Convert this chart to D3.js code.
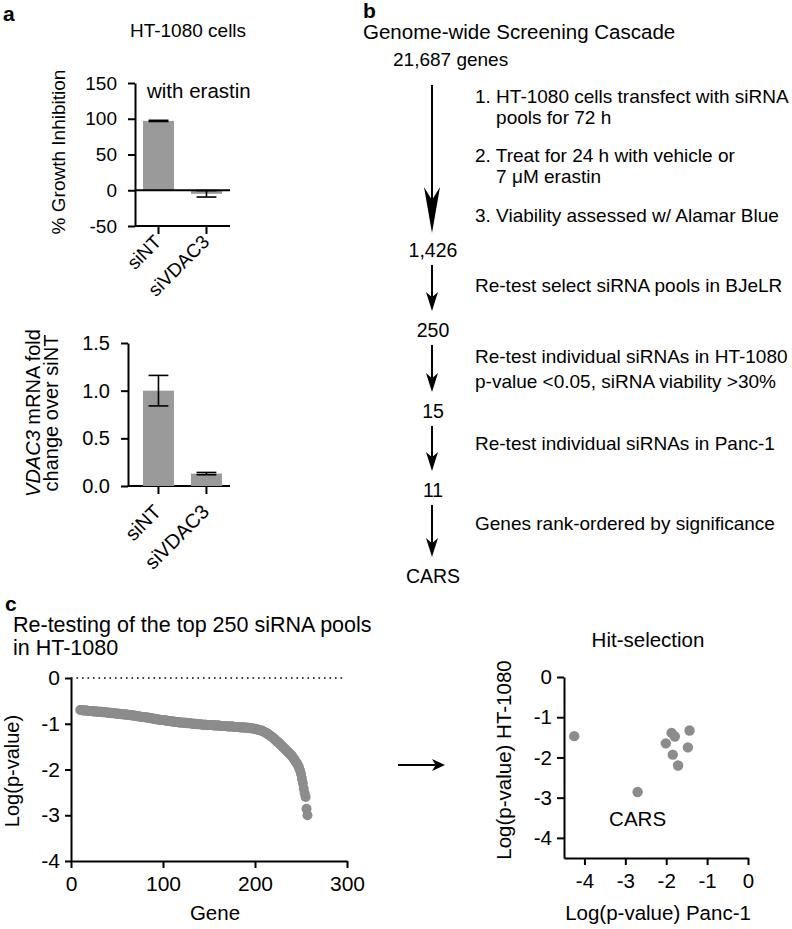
<!DOCTYPE html>
<html>
<head>
<meta charset="utf-8">
<script src="https://cdn.jsdelivr.net/npm/d3@7"></script>
<style>
  body { margin: 0; background: #fff; }
  svg { display: block; }
</style>
</head>
<body>
<div id="chart"></div>
<script>
const FONT = "'Liberation Sans', Arial, Helvetica, sans-serif"
const BAR = '#9a9a9a'
const DOT = '#8c8c8c'

// panel a
const groups = ['siNT', 'siVDAC3']
const growthInhibition = [97, -5]
const growthInhibitionErr = [0.8, 4.5]
const growthTicks = [-50, 0, 50, 100, 150]
const mrnaFold = [1.0, 0.13]
const mrnaFoldErr = [0.16, 0.012]
const foldTicks = [0, 0.5, 1.0, 1.5]

// panel b
const cascadeStart = '21,687 genes'
const cascadeCounts = ['1,426', '250', '15', '11', 'CARS']
const firstSteps = [
  ['1. HT-1080 cells transfect with siRNA', '    pools for 72 h'],
  ['2. Treat for 24 h with vehicle or', '    7 \u03bcM erastin'],
  ['3. Viability assessed w/ Alamar Blue']
]
const laterSteps = [
  ['Re-test select siRNA pools in BJeLR'],
  ['Re-test individual siRNAs in HT-1080', 'p-value <0.05, siRNA viability >30%'],
  ['Re-test individual siRNAs in Panc-1'],
  ['Genes rank-ordered by significance']
]

// panel c, left: ranked log(p) of re-tested pools, first rank shown is 10
const firstRank = 10
const retestLogP = [
  -0.70, -0.70, -0.70, -0.71, -0.71, -0.71, -0.71, -0.71, -0.72, -0.72,
  -0.72, -0.72, -0.72, -0.72, -0.73, -0.73, -0.73, -0.73, -0.73, -0.74,
  -0.74, -0.74, -0.74, -0.74, -0.75, -0.75, -0.75, -0.75, -0.75, -0.76,
  -0.76, -0.76, -0.76, -0.76, -0.77, -0.77, -0.77, -0.77, -0.77, -0.78,
  -0.78, -0.78, -0.78, -0.78, -0.79, -0.79, -0.79, -0.79, -0.80, -0.80,
  -0.80, -0.80, -0.81, -0.81, -0.81, -0.81, -0.82, -0.82, -0.82, -0.82,
  -0.83, -0.83, -0.83, -0.84, -0.84, -0.84, -0.85, -0.85, -0.85, -0.85,
  -0.86, -0.86, -0.86, -0.87, -0.87, -0.87, -0.88, -0.88, -0.88, -0.89,
  -0.89, -0.89, -0.90, -0.90, -0.90, -0.91, -0.91, -0.91, -0.92, -0.92,
  -0.92, -0.92, -0.93, -0.93, -0.93, -0.94, -0.94, -0.94, -0.94, -0.95,
  -0.95, -0.95, -0.95, -0.96, -0.96, -0.96, -0.96, -0.97, -0.97, -0.97,
  -0.97, -0.98, -0.98, -0.98, -0.98, -0.98, -0.99, -0.99, -0.99, -0.99,
  -0.99, -1.00, -1.00, -1.00, -1.00, -1.00, -1.01, -1.01, -1.01, -1.01,
  -1.01, -1.01, -1.02, -1.02, -1.02, -1.02, -1.02, -1.02, -1.03, -1.03,
  -1.03, -1.03, -1.03, -1.03, -1.03, -1.04, -1.04, -1.04, -1.04, -1.04,
  -1.04, -1.04, -1.05, -1.05, -1.05, -1.05, -1.05, -1.05, -1.05, -1.05,
  -1.06, -1.06, -1.06, -1.06, -1.06, -1.06, -1.06, -1.07, -1.07, -1.07,
  -1.07, -1.07, -1.07, -1.07, -1.08, -1.08, -1.08, -1.08, -1.08, -1.08,
  -1.09, -1.09, -1.09, -1.09, -1.10, -1.10, -1.10, -1.10, -1.11, -1.11,
  -1.11, -1.12, -1.12, -1.13, -1.13, -1.14, -1.14, -1.15, -1.16, -1.17,
  -1.18, -1.19, -1.20, -1.21, -1.22, -1.24, -1.25, -1.27, -1.28, -1.30,
  -1.31, -1.33, -1.35, -1.37, -1.39, -1.40, -1.42, -1.44, -1.46, -1.48,
  -1.50, -1.52, -1.54, -1.56, -1.58, -1.60, -1.62, -1.64, -1.66, -1.68,
  -1.70, -1.73, -1.76, -1.79, -1.82, -1.85, -1.88, -1.92, -1.97, -2.02,
  -2.10, -2.20, -2.30, -2.42, -2.52, -2.60, -2.86, -3.00
]
const geneTicks = [0, 100, 200, 300]
const logTicks = [-4, -3, -2, -1, 0]

// panel c, right: hit selection
const hitPanc1 = [-4.25, -2.70, -2.01, -1.87, -1.79, -1.43, -1.47, -1.84, -1.71]
const hitHT1080 = [-1.47, -2.86, -1.65, -1.39, -1.48, -1.33, -1.75, -1.93, -2.20]
const hitLabel = 'CARS'

// plain hyphen for negatives, like the original figure
const hyph = f => d => f(d).replace('\u2212', '-')

const svg = d3.select('#chart').append('svg')
  .attr('width', 792)
  .attr('height', 929)
  .attr('font-family', FONT)

svg.append('rect').attr('width', 792).attr('height', 929).attr('fill', '#fff')

function styleAxis(g, size) {
  g.attr('font-family', FONT)
  g.select('.domain').attr('stroke', '#000').attr('stroke-width', 2)
  g.selectAll('.tick line').attr('stroke', '#000').attr('stroke-width', 2)
  g.selectAll('.tick text').attr('fill', '#000').attr('font-size', size)
}

function text(x, y, str, size, opts = {}) {
  return svg.append('text')
    .attr('x', x)
    .attr('y', y)
    .attr('font-size', size)
    .attr('text-anchor', opts.anchor || 'start')
    .attr('font-weight', opts.weight || 'normal')
    .attr('fill', '#000')
    .text(str)
}

// line with a narrow filled head at (x2, y2)
function arrow(x1, y1, x2, y2, headLen, headHalf) {
  const len = Math.hypot(x2 - x1, y2 - y1)
  const ux = (x2 - x1) / len, uy = (y2 - y1) / len
  const bx = x2 - ux * headLen, by = y2 - uy * headLen
  const nx = x2 - ux * headLen * 0.72, ny = y2 - uy * headLen * 0.72
  svg.append('line')
    .attr('x1', x1).attr('y1', y1).attr('x2', nx).attr('y2', ny)
    .attr('stroke', '#000').attr('stroke-width', 2)
  svg.append('path')
    .attr('d', `M${x2},${y2} L${bx - uy * headHalf},${by + ux * headHalf} L${nx},${ny} L${bx + uy * headHalf},${by - ux * headHalf} Z`)
    .attr('fill', '#000')
}

function barChart(cfg) {
  const { x, y, values, errs, ticks, tickFormat, fontSize, labelDy } = cfg
  const x0 = cfg.axisX
  const yBottom = y.range()[0]

  const gy = svg.append('g')
    .attr('transform', `translate(${x0},0)`)
    .call(d3.axisLeft(y).tickValues(ticks).tickFormat(tickFormat).tickSize(7).tickPadding(11).tickSizeOuter(0))
  styleAxis(gy, fontSize)

  const gx = svg.append('g')
    .attr('transform', `translate(0,${yBottom})`)
    .call(d3.axisBottom(x).tickSize(8).tickSizeOuter(0).tickFormat(''))
  styleAxis(gx, fontSize)
  gx.select('.domain').attr('d', `M${x0},0H${x.range()[1]}`)

  svg.append('g').selectAll('rect')
    .data(groups)
    .join('rect')
    .attr('x', d => x(d))
    .attr('width', x.bandwidth())
    .attr('y', (d, i) => Math.min(y(values[i]), y(0)))
    .attr('height', (d, i) => Math.abs(y(values[i]) - y(0)))
    .attr('fill', BAR)

  const eb = svg.append('g').attr('stroke', '#000').attr('stroke-width', 1.6)
  groups.forEach((d, i) => {
    const cx = x(d) + x.bandwidth() / 2
    const capW = x.bandwidth() * 0.32
    eb.append('line').attr('x1', cx).attr('x2', cx)
      .attr('y1', y(values[i] - errs[i])).attr('y2', y(values[i] + errs[i]))
    ;[values[i] - errs[i], values[i] + errs[i]].forEach(v => {
      eb.append('line').attr('x1', cx - capW).attr('x2', cx + capW)
        .attr('y1', y(v)).attr('y2', y(v))
    })
  })

  if (y.domain()[0] < 0) {
    svg.append('line')
      .attr('x1', x0).attr('x2', x.range()[1])
      .attr('y1', y(0)).attr('y2', y(0))
      .attr('stroke', '#000').attr('stroke-width', 2)
  }

  svg.append('g').selectAll('text')
    .data(groups)
    .join('text')
    .attr('transform', d => `translate(${x(d) + x.bandwidth() / 2 + 4},${yBottom + labelDy}) rotate(-45)`)
    .attr('text-anchor', 'end')
    .attr('font-size', fontSize)
    .text(d => d)
}

// ---------- panel a ----------
text(3, 21, 'a', 21, { weight: 'bold' })
text(188, 37, 'HT-1080 cells', 19, { anchor: 'middle' })

const xTop = d3.scaleBand().domain(groups).range([135, 230]).paddingInner(0.354).paddingOuter(0.167)
const yTop = d3.scaleLinear().domain([-50, 150]).range([226, 83])
barChart({
  x: xTop, y: yTop, axisX: 135, values: growthInhibition, errs: growthInhibitionErr,
  ticks: growthTicks, tickFormat: hyph(d3.format('d')), fontSize: 19, labelDy: 17
})
text(147, 98, 'with erastin', 20.5)
svg.append('text')
  .attr('transform', 'translate(65,152) rotate(-90)')
  .attr('text-anchor', 'middle')
  .attr('font-size', 19)
  .text('% Growth Inhibition')

const xBot = d3.scaleBand().domain(groups).range([128, 230]).paddingInner(0.354).paddingOuter(0.24).align(0.65)
const yBot = d3.scaleLinear().domain([0, 1.5]).range([486, 343])
barChart({
  x: xBot, y: yBot, axisX: 128, values: mrnaFold, errs: mrnaFoldErr,
  ticks: foldTicks, tickFormat: d3.format('.1f'), fontSize: 20, labelDy: 27
})
const yl1 = svg.append('text')
  .attr('transform', 'translate(40,413) rotate(-90)')
  .attr('text-anchor', 'middle')
  .attr('font-size', 20)
yl1.append('tspan').attr('font-style', 'italic').text('VDAC3')
yl1.append('tspan').text(' mRNA fold')
svg.append('text')
  .attr('transform', 'translate(58,413) rotate(-90)')
  .attr('text-anchor', 'middle')
  .attr('font-size', 20)
  .text('change over siNT')

// ---------- panel b ----------
const colX = 432
const stepX = 475
text(363, 18, 'b', 21, { weight: 'bold' })
text(363, 39, 'Genome-wide Screening Cascade', 20.5)
text(393, 66, cascadeStart, 19)

const firstStepY = [103, 162, 222]
firstSteps.forEach((lines, i) => {
  lines.forEach((l, j) => {
    text(stepX, firstStepY[i] + j * 21, l, 19).style('white-space', 'pre')
  })
})
arrow(colX, 85, colX, 233, 46, 8)

const countY = [257, 337, 418, 497, 583]
cascadeCounts.forEach((c, i) => {
  text(colX + 1, countY[i], c, 19.5, { anchor: 'middle' })
})
const laterStepY = [292, 363, 450, 530]
laterSteps.forEach((lines, i) => {
  lines.forEach((l, j) => text(stepX, laterStepY[i] + j * 25, l, 19))
  arrow(colX, countY[i] + 8, colX, countY[i + 1] - 26, 19, 6)
})

// ---------- panel c, left ----------
text(5, 611, 'c', 21, { weight: 'bold' })
text(13, 632, 'Re-testing of the top 250 siRNA pools', 21.5)
text(13, 655, 'in HT-1080', 21.5)

const xGene = d3.scaleLinear().domain([0, 300]).range([71, 347])
const yLog = d3.scaleLinear().domain([-4, 0]).range([861, 678])

svg.append('line')
  .attr('x1', xGene(0)).attr('x2', xGene(295))
  .attr('y1', yLog(0)).attr('y2', yLog(0))
  .attr('stroke', '#000').attr('stroke-width', 1.6)
  .attr('stroke-dasharray', '1.6,3.9')

svg.append('g').selectAll('circle')
  .data(retestLogP)
  .join('circle')
  .attr('cx', (d, i) => xGene(firstRank + i))
  .attr('cy', d => yLog(d))
  .attr('r', 5)
  .attr('fill', DOT)

const gyl = svg.append('g')
  .attr('transform', `translate(${xGene(0)},0)`)
  .call(d3.axisLeft(yLog).tickValues(logTicks).tickFormat(hyph(d3.format('d'))).tickSize(6).tickPadding(5).tickSizeOuter(0))
styleAxis(gyl, 21)
const gxl = svg.append('g')
  .attr('transform', `translate(0,${yLog(-4)})`)
  .call(d3.axisBottom(xGene).tickValues(geneTicks).tickSize(7).tickPadding(8).tickSizeOuter(0))
styleAxis(gxl, 21)
text(215, 920, 'Gene', 20.5, { anchor: 'middle' })
svg.append('text')
  .attr('transform', 'translate(19,771) rotate(-90)')
  .attr('text-anchor', 'middle')
  .attr('font-size', 20)
  .text('Log(p-value)')

arrow(398, 765, 445, 765, 13, 6)

// ---------- panel c, right ----------
text(648, 647, 'Hit-selection', 20.5, { anchor: 'middle' })
const xHit = d3.scaleLinear().domain([-4.5, 0]).range([564, 748])
const yHit = d3.scaleLinear().domain([-4.5, 0]).range([858, 677])

svg.append('g').selectAll('circle')
  .data(hitPanc1)
  .join('circle')
  .attr('cx', d => xHit(d))
  .attr('cy', (d, i) => yHit(hitHT1080[i]))
  .attr('r', 5.2)
  .attr('fill', DOT)

const gyh = svg.append('g')
  .attr('transform', `translate(${xHit(-4.5)},0)`)
  .call(d3.axisLeft(yHit).tickValues(logTicks).tickFormat(hyph(d3.format('d'))).tickSize(7).tickPadding(5).tickSizeOuter(0))
styleAxis(gyh, 20.5)
const gxh = svg.append('g')
  .attr('transform', `translate(0,${yHit(-4.5)})`)
  .call(d3.axisBottom(xHit).tickValues(logTicks).tickFormat(hyph(d3.format('d'))).tickSize(7).tickPadding(8).tickSizeOuter(0))
styleAxis(gxh, 20.5)

text(xHit(hitPanc1[1]), yHit(hitHT1080[1]) + 34, hitLabel, 20.5, { anchor: 'middle' })
text(658, 920, 'Log(p-value) Panc-1', 20.5, { anchor: 'middle' })
svg.append('text')
  .attr('transform', 'translate(511,760) rotate(-90)')
  .attr('text-anchor', 'middle')
  .attr('font-size', 20.5)
  .text('Log(p-value) HT-1080')
</script>
</body>
</html>
